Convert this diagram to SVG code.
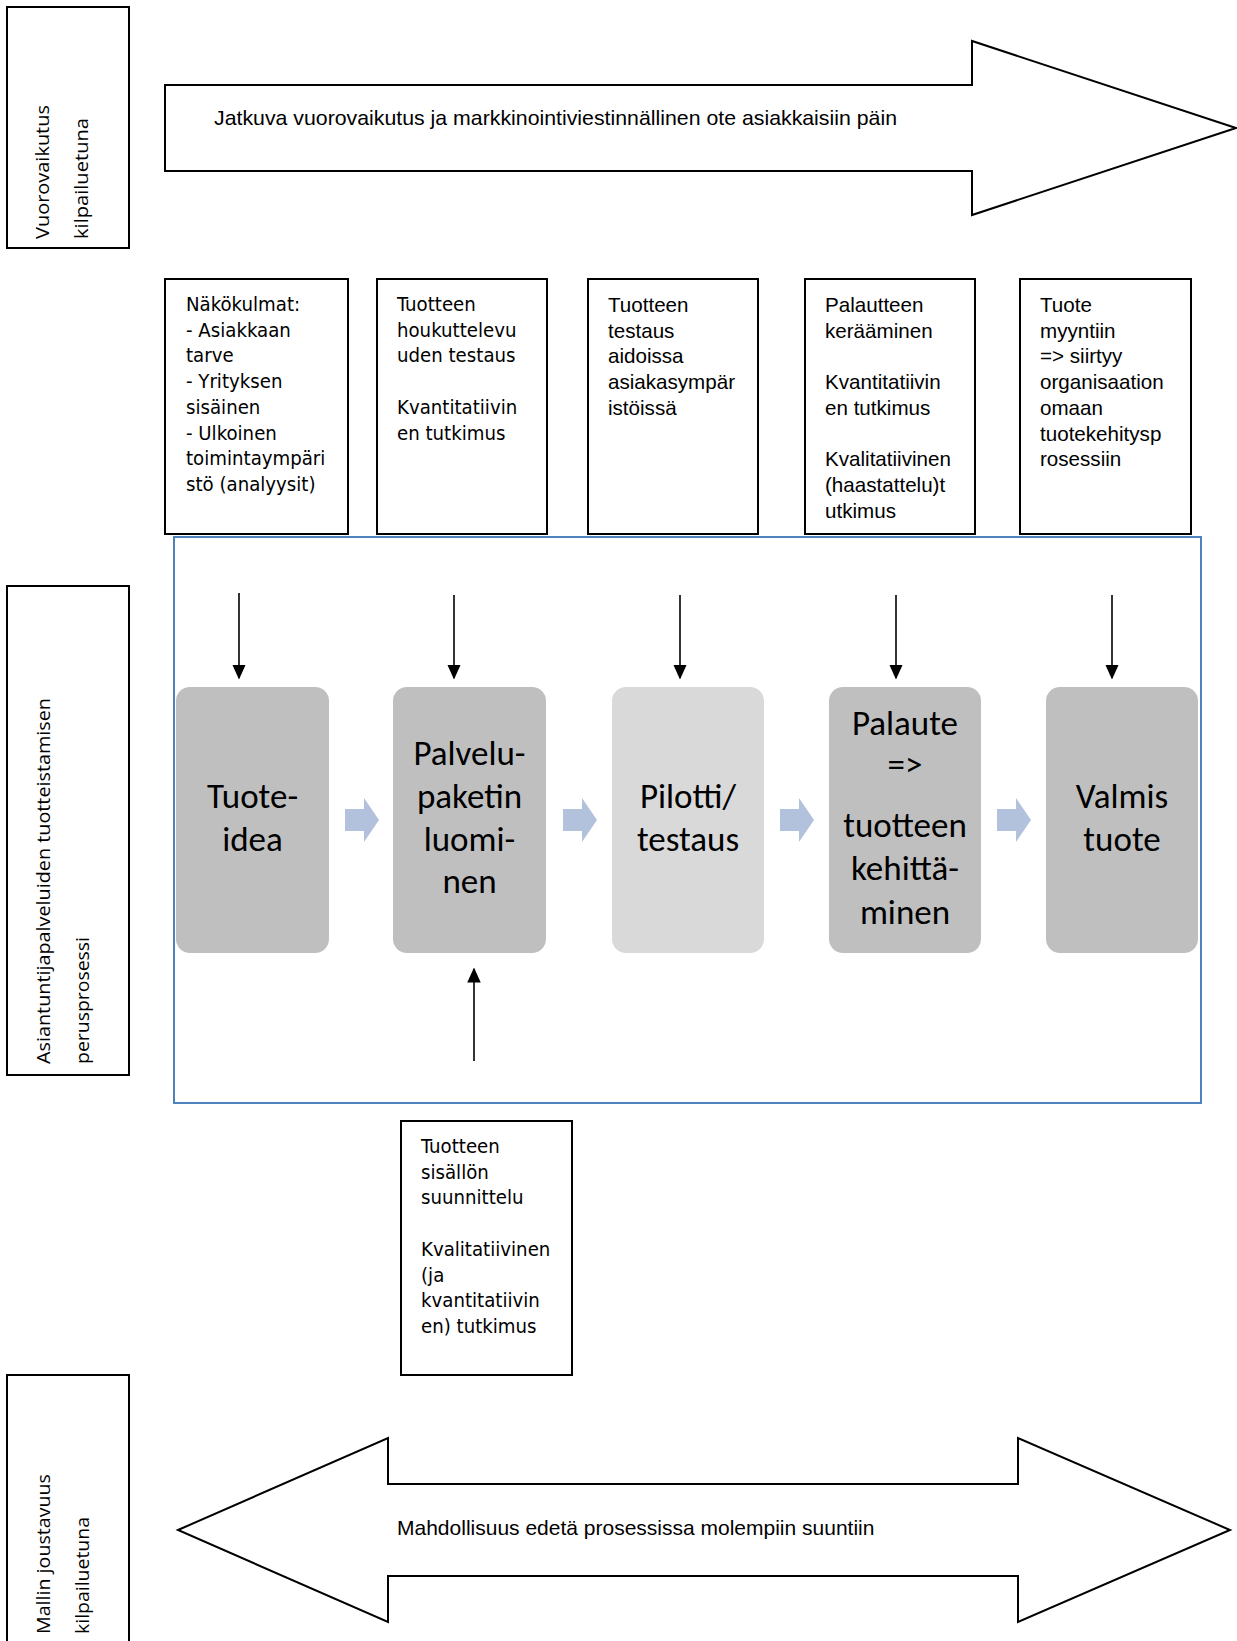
<svg xmlns="http://www.w3.org/2000/svg" width="1237" height="1641" viewBox="0 0 1237 1641">
  <defs>
    <style>
      .frame { fill: #ffffff; stroke: #000000; stroke-width: 2; }
      .lane { fill: none; stroke: #000000; stroke-width: 2; }
      .band { fill: none; stroke: #4F81BD; stroke-width: 2; }
      .step { stroke: none; }
      .dark { fill: #BFBFBF; }
      .light { fill: #D9D9D9; }
      .flow { fill: #B3C2DC; }
      .wire { stroke: #000000; stroke-width: 1.6; fill: none; }
      .wide { font-family: "DejaVu Sans Condensed", "DejaVu Sans", sans-serif; font-stretch: condensed; font-size: 20.2px; fill: #000; }
      .plain { font-family: "Liberation Sans", Arial, sans-serif; font-size: 20.6px; fill: #000; }
      .banner { font-family: "Liberation Sans", Arial, sans-serif; font-size: 21px; fill: #000; }
      .side { font-family: "Open Sans", "Noto Sans", sans-serif; font-size: 19px; fill: #000; }
      .big { font-family: Carlito, Lato, "Open Sans", sans-serif; font-size: 35px; fill: #000; text-anchor: middle; }
    </style>
    <marker id="tip" viewBox="0 0 10 10" refX="9" refY="5" markerWidth="15" markerHeight="15" markerUnits="userSpaceOnUse" orient="auto">
      <path d="M0,0.5 L10,5 L0,9.5 z" fill="#000"/>
    </marker>
  </defs>

  <rect width="1237" height="1641" fill="#ffffff"/>

  <!-- left-hand lane labels -->
  <g id="lane-interaction">
    <rect class="lane" x="7" y="7" width="122" height="241"/>
    <text class="side" transform="translate(49,239) rotate(-90)" textLength="134" lengthAdjust="spacingAndGlyphs">Vuorovaikutus</text>
    <text class="side" transform="translate(88,239) rotate(-90)" textLength="121" lengthAdjust="spacingAndGlyphs">kilpailuetuna</text>
  </g>
  <g id="lane-process">
    <rect class="lane" x="7" y="586" width="122" height="489"/>
    <text class="side" transform="translate(50,1064) rotate(-90)" textLength="366" lengthAdjust="spacingAndGlyphs">Asiantuntijapalveluiden tuotteistamisen</text>
    <text class="side" transform="translate(89,1064) rotate(-90)" textLength="127" lengthAdjust="spacingAndGlyphs">perusprosessi</text>
  </g>
  <g id="lane-flexibility">
    <rect class="lane" x="7" y="1375" width="122" height="280"/>
    <text class="side" transform="translate(50,1634) rotate(-90)" textLength="160" lengthAdjust="spacingAndGlyphs">Mallin joustavuus</text>
    <text class="side" transform="translate(89,1634) rotate(-90)" textLength="117" lengthAdjust="spacingAndGlyphs">kilpailuetuna</text>
  </g>

  <!-- top block arrow -->
  <g id="arrow-interaction">
    <polygon class="frame" points="165,85 972,85 972,41 1236,128 972,215 972,171 165,171"/>
    <text class="banner" x="214" y="125" textLength="683" lengthAdjust="spacingAndGlyphs">Jatkuva vuorovaikutus ja markkinointiviestinnällinen ote asiakkaisiin päin</text>
  </g>

  <!-- research notes above the steps -->
  <g id="note-idea">
    <rect class="frame" x="165" y="279" width="183" height="255"/>
    <text class="wide" x="186" y="311">
      <tspan x="186" dy="0">Näkökulmat:</tspan>
      <tspan x="186" dy="25.7">- Asiakkaan</tspan>
      <tspan x="186" dy="25.7">tarve</tspan>
      <tspan x="186" dy="25.7">- Yrityksen</tspan>
      <tspan x="186" dy="25.7">sisäinen</tspan>
      <tspan x="186" dy="25.7">- Ulkoinen</tspan>
      <tspan x="186" dy="25.7">toimintaympäri</tspan>
      <tspan x="186" dy="25.7">stö (analyysit)</tspan>
    </text>
  </g>
  <g id="note-package">
    <rect class="frame" x="377" y="279" width="170" height="255"/>
    <text class="wide" x="397" y="311">
      <tspan x="397" dy="0">Tuotteen</tspan>
      <tspan x="397" dy="25.7">houkuttelevu</tspan>
      <tspan x="397" dy="25.7">uden testaus</tspan>
      <tspan x="397" dy="51.4">Kvantitatiivin</tspan>
      <tspan x="397" dy="25.7">en tutkimus</tspan>
    </text>
  </g>
  <g id="note-pilot">
    <rect class="frame" x="588" y="279" width="170" height="255"/>
    <text class="plain" x="608" y="312">
      <tspan x="608" dy="0">Tuotteen</tspan>
      <tspan x="608" dy="25.7">testaus</tspan>
      <tspan x="608" dy="25.7">aidoissa</tspan>
      <tspan x="608" dy="25.7">asiakasympär</tspan>
      <tspan x="608" dy="25.7">istöissä</tspan>
    </text>
  </g>
  <g id="note-feedback">
    <rect class="frame" x="805" y="279" width="170" height="255"/>
    <text class="plain" x="825" y="312">
      <tspan x="825" dy="0">Palautteen</tspan>
      <tspan x="825" dy="25.7">kerääminen</tspan>
      <tspan x="825" dy="51.4">Kvantitatiivin</tspan>
      <tspan x="825" dy="25.7">en tutkimus</tspan>
      <tspan x="825" dy="51.4">Kvalitatiivinen</tspan>
      <tspan x="825" dy="25.7">(haastattelu)t</tspan>
      <tspan x="825" dy="25.7">utkimus</tspan>
    </text>
  </g>
  <g id="note-ready">
    <rect class="frame" x="1020" y="279" width="171" height="255"/>
    <text class="plain" x="1040" y="312">
      <tspan x="1040" dy="0">Tuote</tspan>
      <tspan x="1040" dy="25.7">myyntiin</tspan>
      <tspan x="1040" dy="25.7">=&gt; siirtyy</tspan>
      <tspan x="1040" dy="25.7">organisaation</tspan>
      <tspan x="1040" dy="25.7">omaan</tspan>
      <tspan x="1040" dy="25.7">tuotekehitysp</tspan>
      <tspan x="1040" dy="25.7">rosessiin</tspan>
    </text>
  </g>

  <!-- process band -->
  <g id="process-band">
    <rect class="band" x="174" y="537" width="1027" height="566"/>
  </g>

  <!-- process steps -->
  <g id="step-idea">
    <rect class="step dark" x="176" y="687" width="153" height="266" rx="14"/>
    <text class="big" x="252.5" y="808">Tuote-</text>
    <text class="big" x="252.5" y="851">idea</text>
  </g>
  <g id="step-package">
    <rect class="step dark" x="393" y="687" width="153" height="266" rx="14"/>
    <text class="big" x="469.5" y="765">Palvelu-</text>
    <text class="big" x="469.5" y="808">paketin</text>
    <text class="big" x="469.5" y="851">luomi-</text>
    <text class="big" x="469.5" y="893">nen</text>
  </g>
  <g id="step-pilot">
    <rect class="step light" x="612" y="687" width="152" height="266" rx="14"/>
    <text class="big" x="688" y="808">Pilotti/</text>
    <text class="big" x="688" y="851">testaus</text>
  </g>
  <g id="step-feedback">
    <rect class="step dark" x="829" y="687" width="152" height="266" rx="14"/>
    <text class="big" x="905" y="735">Palaute</text>
    <text class="big" x="905" y="776">=&gt;</text>
    <text class="big" x="905" y="837">tuotteen</text>
    <text class="big" x="905" y="880">kehittä-</text>
    <text class="big" x="905" y="924">minen</text>
  </g>
  <g id="step-ready">
    <rect class="step dark" x="1046" y="687" width="152" height="266" rx="14"/>
    <text class="big" x="1122" y="808">Valmis</text>
    <text class="big" x="1122" y="851">tuote</text>
  </g>

  <!-- content planning note below -->
  <g id="note-content">
    <rect class="frame" x="401" y="1121" width="171" height="254"/>
    <text class="wide" x="421" y="1153">
      <tspan x="421" dy="0">Tuotteen</tspan>
      <tspan x="421" dy="25.7">sisällön</tspan>
      <tspan x="421" dy="25.7">suunnittelu</tspan>
      <tspan x="421" dy="51.4">Kvalitatiivinen</tspan>
      <tspan x="421" dy="25.7">(ja</tspan>
      <tspan x="421" dy="25.7">kvantitatiivin</tspan>
      <tspan x="421" dy="25.7">en) tutkimus</tspan>
    </text>
  </g>

  <!-- bottom two-way block arrow -->
  <g id="arrow-flexibility">
    <polygon class="frame" points="178,1530 388,1438 388,1484 1018,1484 1018,1438 1230,1530 1018,1622 1018,1576 388,1576 388,1622"/>
    <text class="banner" x="397" y="1535">Mahdollisuus edetä prosessissa molempiin suuntiin</text>
  </g>

  <!-- connectors -->
  <g id="connectors">
    <line class="wire" x1="239" y1="593" x2="239" y2="678" marker-end="url(#tip)"/>
    <line class="wire" x1="454" y1="595" x2="454" y2="678" marker-end="url(#tip)"/>
    <line class="wire" x1="680" y1="595" x2="680" y2="678" marker-end="url(#tip)"/>
    <line class="wire" x1="896" y1="595" x2="896" y2="678" marker-end="url(#tip)"/>
    <line class="wire" x1="1112" y1="595" x2="1112" y2="678" marker-end="url(#tip)"/>
    <line class="wire" x1="474" y1="1061" x2="474" y2="969" marker-end="url(#tip)"/>
    <polygon class="flow" points="345,809 364,809 364,798 379,820 364,842 364,831 345,831"/>
    <polygon class="flow" points="563,809 582,809 582,798 597,820 582,842 582,831 563,831"/>
    <polygon class="flow" points="780,809 799,809 799,798 814,820 799,842 799,831 780,831"/>
    <polygon class="flow" points="997,809 1016,809 1016,798 1031,820 1016,842 1016,831 997,831"/>
  </g>
</svg>
